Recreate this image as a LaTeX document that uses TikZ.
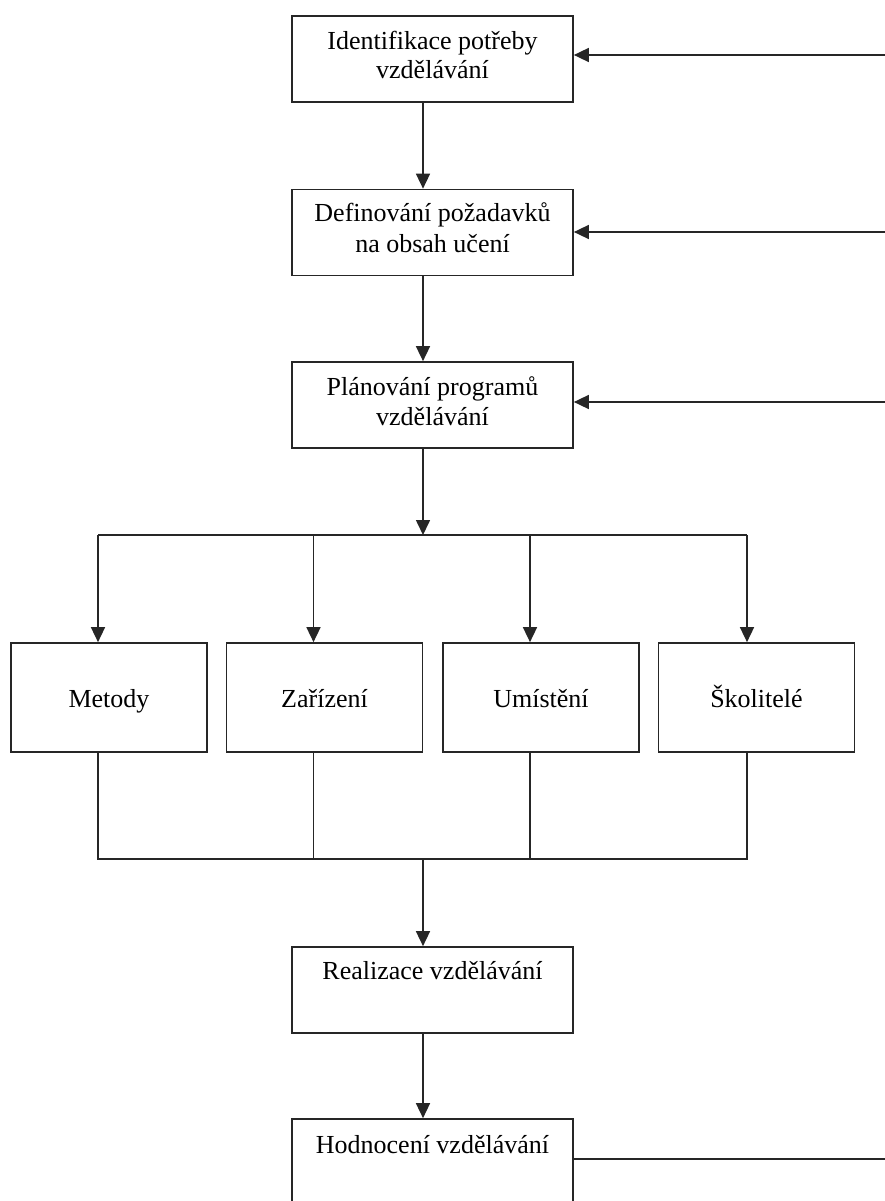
\documentclass[tikz,border=0pt]{standalone}
\usepackage{fontspec}
\setmainfont{Liberation Serif}
\usetikzlibrary{arrows.meta,calc}
\begin{document}
\begin{tikzpicture}[x=1pt,y=-1pt,
  box/.style={draw=black!85, line width=1.7pt, rectangle, inner sep=0pt, align=center,
              font=\fontsize{26}{29}\selectfont},
  bigbox/.style={box, minimum width=281pt, minimum height=86pt},
  smallbox/.style={box, minimum width=196pt, minimum height=109pt, text height=19pt, text depth=0pt},
  lbl/.style={inner sep=0pt, font=\fontsize{26}{29}\selectfont, anchor=base},
  conn/.style={draw=black!85, line width=1.6pt},
  arr/.style={conn, -{Triangle[length=15pt,width=14pt]}},
]
\useasboundingbox (0,0) rectangle (885,1201);
\clip (0,0) rectangle (885,1201);

% main column
\node[bigbox] (b1) at (432.5,59) {};
\node[lbl] (b1a) at (432.5,50) {Identifikace potřeby};
\node[lbl] (b1b) at (432.5,79) {vzdělávání};
\node[bigbox] (b2) at (432.5,232.5) {};
\node[lbl] (b2a) at (432.5,222) {Definování požadavků};
\node[lbl] (b2b) at (432.5,252) {na obsah učení};
\node[bigbox] (b3) at (432.5,405) {};
\node[lbl] (b3a) at (432.5,395) {Plánování programů};
\node[lbl] (b3b) at (432.5,425) {vzdělávání};

% resources
\node[smallbox] (m1) at (109,697.5) {Metody};
\node[smallbox] (m2) at (324.5,697.5) {Zařízení};
\node[smallbox] (m3) at (541,697.5) {Umístění};
\node[smallbox] (m4) at (756.5,697.5) {Školitelé};

% realization and evaluation
\node[bigbox] (r) at (432.5,990) {};
\node[lbl] (rt) at (432.5,979) {Realizace vzdělávání};
\node[box, minimum width=281pt, minimum height=141pt] (h) at (432.5,1189.5) {};
\node[lbl] (ht) at (432.5,1153) {Hodnocení vzdělávání};

% right-edge feedback coordinates
\coordinate (e1) at (885,55);
\coordinate (e2) at (885,232);
\coordinate (e3) at (885,402);
\coordinate (e6) at (885,1159);

\draw[arr] (e1) -- (e1 -| b1.east);
\draw[arr] (e2) -- (e2 -| b2.east);
\draw[arr] (e3) -- (e3 -| b3.east);
\draw[conn] (e6 -| h.east) -- (e6);

% vertical main arrows
\draw[arr] ([xshift=-9.5pt]b1.south) -- ([xshift=-9.5pt]b2.north);
\draw[arr] ([xshift=-9.5pt]b2.south) -- ([xshift=-9.5pt]b3.north);

% branch
\coordinate (br) at (423,535);
\draw[arr] ([xshift=-9.5pt]b3.south) -- (br);
\draw[conn] ([xshift=-11pt]m1.north |- br) -- ([xshift=-9.5pt]m4.north |- br);
\draw[arr] ([xshift=-11pt]m1.north |- br) -- ([xshift=-11pt]m1.north);
\draw[arr] ([xshift=-11pt]m2.north |- br) -- ([xshift=-11pt]m2.north);
\draw[arr] ([xshift=-11pt]m3.north |- br) -- ([xshift=-11pt]m3.north);
\draw[arr] ([xshift=-9.5pt]m4.north |- br) -- ([xshift=-9.5pt]m4.north);

% merge
\coordinate (mg) at (423,859);
\draw[conn] ([xshift=-11pt]m1.south) -- ([xshift=-11pt]m1.south |- mg)
            -- ([xshift=-9.5pt]m4.south |- mg) -- ([xshift=-9.5pt]m4.south);
\draw[conn] ([xshift=-11pt]m2.south) -- ([xshift=-11pt]m2.south |- mg);
\draw[conn] ([xshift=-11pt]m3.south) -- ([xshift=-11pt]m3.south |- mg);
\draw[arr] (mg) -- (mg |- r.north);
\draw[arr] ([xshift=-9.5pt]r.south) -- ([xshift=-9.5pt]h.north);
\end{tikzpicture}
\end{document}
